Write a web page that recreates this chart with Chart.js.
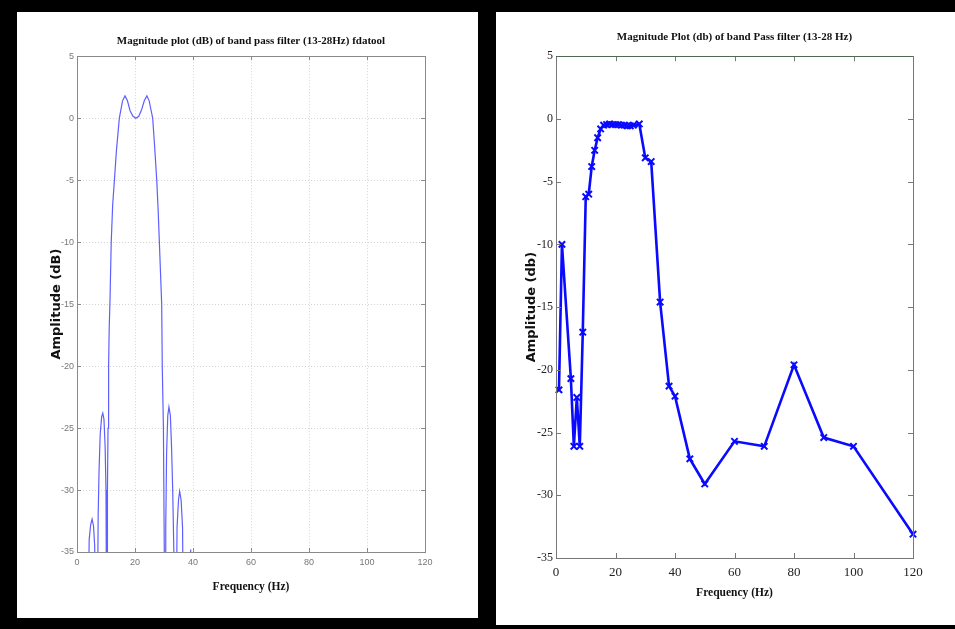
<!DOCTYPE html>
<html>
<head>
<meta charset="utf-8">
<script src="https://cdn.jsdelivr.net/npm/chart.js@4.4.1/dist/chart.umd.min.js"></script>
<style>
  html, body { margin: 0; padding: 0; background: #000; }
  body { width: 955px; height: 629px; position: relative; overflow: hidden; }
  .panel { position: absolute; background: #fff; }
  #leftPanel { left: 17px; top: 12px; width: 461px; height: 606px; }
  #rightPanel { left: 496px; top: 12px; width: 459px; height: 613px; }
</style>
</head>
<body>
<div class="panel" id="leftPanel"><canvas id="designChart" width="461" height="606"></canvas></div>
<div class="panel" id="rightPanel"><canvas id="measuredChart" width="459" height="613"></canvas></div>
<script>
// fdatool design response; zeros sit below the axis
var designFreq = [3.6, 4.2, 4.7, 5.2, 5.7, 6.1, 6.4,
    6.9, 7.3, 7.6, 8.0, 8.5, 8.9, 9.3, 9.7, 10.0, 10.25,
    10.35, 10.5, 10.7, 10.9, 11.1, 11.4, 11.8, 12.3, 12.9, 13.6, 14.6, 15.7, 16.55, 17.4, 18.3, 19.3, 20.3,
    21.3, 22.3, 23.2, 24.1, 24.9, 25.4, 26.1, 26.8, 27.5, 28.0, 28.4, 28.8, 29.2, 29.4, 29.8, 30.1, 30.25,
    30.35, 30.6, 30.9, 31.3, 31.7, 32.2, 32.6, 33.0, 33.4, 33.7,
    34.1, 34.5, 35.0, 35.4, 35.9, 36.4, 36.8,
    38.5, 39.2, 39.8];
var designDb = [-45, -34, -32.8, -32.35, -32.9, -34.5, -45,
    -45, -32, -28.5, -25.5, -24.1, -23.8, -24.3, -26.5, -30, -45,
    -45, -30, -25, -20, -17, -14.5, -10, -7, -5, -2.6, 0, 1.4, 1.8, 1.4, 0.6, 0.15, 0,
    0.15, 0.7, 1.4, 1.8, 1.4, 0.8, 0, -2.4, -5, -7.5, -10, -12.5, -15, -20, -25, -35, -45,
    -45, -33, -27, -24, -23.3, -24, -26.5, -30, -35, -45,
    -45, -33, -30.8, -30.1, -30.8, -33, -45,
    -45, -34.8, -45];

// measured response (right plot)
var measFreq = [1, 2, 5, 6, 7, 8, 9, 10, 11, 12, 13, 14, 15, 16, 17, 18, 19, 20, 21, 22, 23, 24, 25, 26, 28,
    30, 32, 35, 38, 40, 45, 50, 60, 70, 80, 90, 100, 120];
var measDb = [-21.6, -10, -20.7, -26.1, -22.2, -26.1, -17, -6.2, -6.0, -3.8, -2.5, -1.5, -0.8, -0.5,
    -0.45, -0.4, -0.45, -0.45, -0.45, -0.5, -0.5, -0.55, -0.55, -0.5, -0.4,
    -3.1, -3.4, -14.6, -21.3, -22.1, -27.1, -29.1, -25.7, -26.1, -19.6, -25.4, -26.1, -33.1];

var xTicks = [0, 20, 40, 60, 80, 100, 120];
var yTicks = [5, 0, -5, -10, -15, -20, -25, -30, -35];

function toPoints(xs, ys) {
    return xs.map(function (x, i) { return {x: x, y: ys[i]}; });
}

// matlab style box with inward tick marks
var framePlugin = {
    id: 'frame',
    afterDraw: function (chart, args, opts) {
        var a = chart.chartArea, ctx = chart.ctx;
        var xs = chart.scales.x, ys = chart.scales.y, len = opts.tick;
        ctx.save();
        ctx.lineWidth = 1;
        ctx.strokeStyle = opts.color;
        ctx.beginPath();
        xs.ticks.forEach(function (t) {
            var px = Math.round(xs.getPixelForValue(t.value)) + 0.5;
            ctx.moveTo(px, a.bottom); ctx.lineTo(px, a.bottom - len);
            ctx.moveTo(px, a.top); ctx.lineTo(px, a.top + len);
        });
        ys.ticks.forEach(function (t) {
            var py = Math.round(ys.getPixelForValue(t.value)) + 0.5;
            ctx.moveTo(a.left, py); ctx.lineTo(a.left + len, py);
            ctx.moveTo(a.right, py); ctx.lineTo(a.right - len, py);
        });
        ctx.stroke();
        ctx.strokeRect(Math.round(a.left) + 0.5, Math.round(a.top) + 0.5,
            Math.round(a.right - a.left), Math.round(a.bottom - a.top));
        if (opts.topColor) {
            ctx.strokeStyle = opts.topColor;
            ctx.beginPath();
            ctx.moveTo(a.left, Math.round(a.top) + 0.5); ctx.lineTo(a.right, Math.round(a.top) + 0.5);
            ctx.stroke();
        }
        ctx.restore();
    }
};

function linearAxis(min, max, ticks, fit, tickFont, tickColor, tickPad, title) {
    return {
        type: 'linear', min: min, max: max,
        afterBuildTicks: function (scale) {
            scale.ticks = ticks.map(function (v) { return {value: v}; });
        },
        afterFit: fit,
        ticks: {font: tickFont, color: tickColor, padding: tickPad, autoSkip: false, maxRotation: 0},
        border: {display: false},
        grid: {display: false, drawTicks: false},
        title: title
    };
}

var serif = "'Liberation Serif', 'Times New Roman', serif";
var heavy = "'DejaVu Sans', sans-serif";

var designCanvas = document.getElementById("designChart");
var leftTickFont = {family: "'Liberation Sans', Arial, sans-serif", size: 9};
var leftX = linearAxis(0, 120, xTicks, function (s) { s.height = 66; }, leftTickFont, '#777', 5,
    {display: true, text: 'Frequency (Hz)', color: '#111', padding: {top: 0, bottom: 24},
     font: {family: serif, size: 11.5, weight: 'bold'}});
var leftY = linearAxis(-35, 5, yTicks, function (s) { s.width = 60; }, leftTickFont, '#777', 3,
    {display: true, text: 'Amplitude (dB)', color: '#111', padding: {top: 32, bottom: 0},
     font: {family: heavy, size: 13, weight: 'bold'}});
[leftX, leftY].forEach(function (ax) {
    ax.grid = {display: true, drawTicks: false, color: '#d4d4d4', lineWidth: 1};
    ax.border = {display: false, dash: [1, 2]};
});

var designChart = new Chart(designCanvas, {
    type: 'scatter',
    data: {
        datasets: [{
            data: toPoints(designFreq, designDb),
            showLine: true,
            borderColor: 'rgb(95, 95, 255)',
            borderWidth: 1.2,
            pointRadius: 0,
            tension: 0
        }]
    },
    plugins: [framePlugin],
    options: {
        responsive: false,
        animation: false,
        layout: {padding: {left: 0, right: 53, top: 0, bottom: 0}},
        scales: {x: leftX, y: leftY},
        plugins: {
            legend: {display: false},
            tooltip: {enabled: false},
            title: {
                display: true,
                fullSize: false,
                text: 'Magnitude plot (dB) of band pass filter (13-28Hz) fdatool',
                color: '#111',
                font: {family: serif, size: 11, weight: 'bold'},
                padding: {top: 23, bottom: 8}
            },
            frame: {color: '#8a8a8a', tick: 4}
        }
    }
});

var measuredCanvas = document.getElementById("measuredChart");
var rightTickFont = {family: serif, size: 12};
var rightX = linearAxis(0, 120, xTicks, function (s) { s.height = 67; }, {family: serif, size: 13}, '#222', 7,
    {display: true, text: 'Frequency (Hz)', color: '#111', padding: {top: 0, bottom: 25},
     font: {family: serif, size: 11.5, weight: 'bold'}});
var rightY = linearAxis(-35, 5, yTicks, function (s) { s.width = 60; }, rightTickFont, '#222', 3,
    {display: true, text: 'Amplitude (db)', color: '#111', padding: {top: 28, bottom: 0},
     font: {family: heavy, size: 13, weight: 'bold'}});

var measuredChart = new Chart(measuredCanvas, {
    type: 'scatter',
    data: {
        datasets: [{
            data: toPoints(measFreq, measDb),
            showLine: true,
            borderColor: '#0a0aff',
            backgroundColor: '#0a0aff',
            borderWidth: 2.6,
            pointStyle: 'crossRot',
            pointRadius: 4.5,
            pointBorderWidth: 2,
            clip: false,
            tension: 0
        }]
    },
    plugins: [framePlugin],
    options: {
        responsive: false,
        animation: false,
        layout: {padding: {left: 0, right: 42, top: 0, bottom: 0}},
        scales: {x: rightX, y: rightY},
        plugins: {
            legend: {display: false},
            tooltip: {enabled: false},
            title: {
                display: true,
                fullSize: false,
                text: 'Magnitude Plot (db) of band Pass filter (13-28 Hz)',
                color: '#111',
                font: {family: serif, size: 11, weight: 'bold'},
                padding: {top: 19, bottom: 12}
            },
            frame: {color: '#777', tick: 5, topColor: '#4f6a4f'}
        }
    }
});
</script>
</body>
</html>
